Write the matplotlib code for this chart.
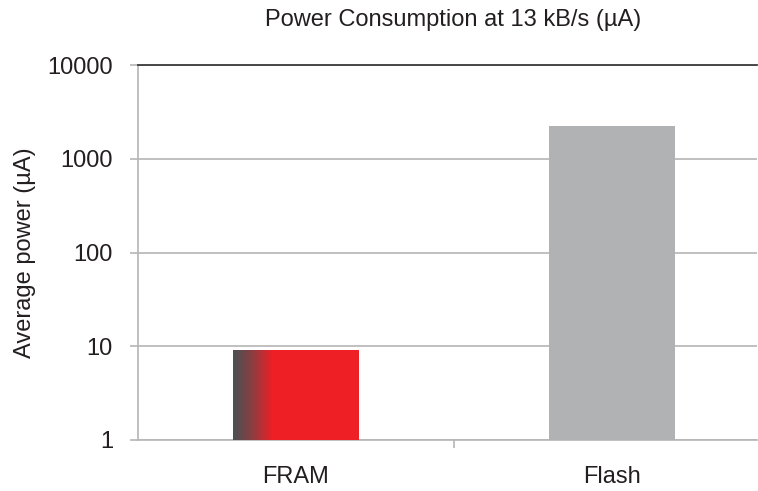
import numpy as np
import matplotlib.pyplot as plt
from matplotlib.colors import to_rgb

# Data
categories = ['FRAM', 'Flash']
power_ua = [9.2, 2230]
y_ticks = [1, 10, 100, 1000, 10000]

plt.rcParams['font.family'] = ['Liberation Sans', 'DejaVu Sans']

TEXT = '#231f20'
GRID = '#b5b5b5'
RED = '#ee1f25'
GRAY_BAR = '#b1b2b4'
DARK = '#4f4f51'
FS = 17

fig = plt.figure(figsize=(7.58, 4.91), dpi=100)
ax = fig.add_axes([138 / 758, 1 - 440 / 491, (757 - 138) / 758, 375 / 491])

x = np.arange(len(categories))
width = 0.40
ax.set_yscale('log')

# FRAM bar: red with dark-to-red gradient on the left edge
ax.bar(x[0], power_ua[0], width=width, color=RED, zorder=3)
n = 40
grad_w = width * 0.32
c0, c1 = np.array(to_rgb(DARK)), np.array(to_rgb(RED))
left = x[0] - width / 2
for i in range(n):
    t = i / (n - 1)
    col = c0 + (c1 - c0) * t ** 1.3
    ax.bar(left + grad_w * i / n, power_ua[0], width=grad_w / n * 1.05,
           align='edge', color=col, zorder=3, linewidth=0)

ax.bar(x[1], power_ua[1], width=width, color=GRAY_BAR, zorder=3)

ax.set_ylim(1, 10000)
ax.set_xlim(-0.5, 1.5 - 13 / 316)
ax.set_yticks(y_ticks)
ax.set_yticklabels([str(v) for v in y_ticks])
ax.yaxis.set_minor_locator(plt.NullLocator())
ax.set_xticks(x)
ax.set_xticklabels(categories)
ax.set_xticks([0.5], minor=True)

ax.grid(axis='y', which='major', color=GRID, linewidth=1.2, zorder=0)
ax.spines['right'].set_visible(False)
ax.spines['top'].set_color('#3a3a3a')
ax.spines['top'].set_linewidth(1.3)
for s in ['left', 'bottom']:
    ax.spines[s].set_color(GRID)
    ax.spines[s].set_linewidth(1.2)

ax.tick_params(axis='y', which='major', length=6, color=GRID, width=1.2,
               pad=12, labelsize=FS, labelcolor=TEXT)
ax.tick_params(axis='x', which='major', length=0, pad=19, labelsize=FS,
               labelcolor=TEXT)
ax.tick_params(axis='x', which='minor', length=6, color=GRID, width=1.2)

ax.set_ylabel('Average power (µA)', fontsize=FS, color=TEXT, labelpad=8)
fig.text(453 / 758, 1 - 20 / 491, 'Power Consumption at 13 kB/s (µA)',
         ha='center', va='center', fontsize=FS, color=TEXT)

fig.savefig('out.png', dpi=100)
